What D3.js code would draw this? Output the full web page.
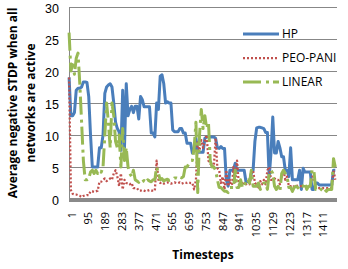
<!DOCTYPE html>
<html><head><meta charset="utf-8">
<script src="https://cdn.jsdelivr.net/npm/d3@7"></script>
<style>
body{margin:0;background:#fff;}
text{font-family:"Open Sans",Calibri,sans-serif;fill:#000;}
</style></head>
<body><svg id="c" width="348" height="269"></svg>
<script>
// timesteps sampled every 10 steps (1, 11, 21, ... 1491)
const timesteps = d3.range(150).map(i => 1 + 10 * i);
const hp = [19,13,13,13.5,17,17.3,17.3,17.5,18.3,18.3,18.2,16,10,5,5,5,5,8,8,10,
  16.5,17.5,17.8,18,17.5,15,12,11,10.5,7.6,17,8,18,13,14,14.5,13.5,14.5,14.5,12.5,
  16,15.5,14.4,14.4,14.4,14.4,10.3,10.3,9.7,15,14,19.2,19.4,18,15,15.2,15,15,10.8,10.5,
  10.5,10.5,11,11,10.3,10.3,8.7,8.7,8.7,7.2,7.5,9.5,7.3,7.3,7.3,7.3,9.5,9.7,9.7,9.7,
  9.7,9.7,9.5,8,7.9,8.2,7.9,7.9,3,2,4.5,4.5,4.5,5.6,4.5,4.5,4.5,4.5,4.5,2.7,
  2.7,2.7,4,4.5,9,11.1,11.2,11.2,11.1,11,10.4,10.4,3.4,7.2,12.8,7.2,7.2,9,8,6.6,
  6.6,4.5,4.5,3.5,8,3,3,3,3,4.5,1.5,4.8,4.2,4.2,4.2,4.2,1.5,1.5,2.5,2.5,
  2.2,2.2,2.2,2.2,2.2,2.2,2.2,2.2,4.5,4.5];
const peoPani = [19,1.4,0.8,0.7,0.7,0.6,0.5,0.3,0.5,0.5,0.6,0.6,1.2,1.2,1.1,1.2,1.3,2.7,2.7,3,
  3.2,2.8,3,3.2,3,4,4.5,3.5,2,4,1.5,3,2.5,2.5,2.3,2.5,1.7,1.7,1.7,1.3,
  1.3,1.4,1.3,1.2,1.3,1.4,1.3,1.3,1.3,6,3,2.5,2.6,2.4,2.5,2.6,2.5,2.4,2.5,2.6,
  2.5,2.5,2.6,2.4,2.5,2.6,2.5,2.6,2.5,2.5,1.5,3,9,7.6,9.2,8,9,10,6,5.5,
  5.5,5,9.5,4.8,4.5,2.5,3.5,1.5,4.5,2,3,1.5,5,2.5,6,2.3,2.3,2.5,2.2,2.3,
  2.4,2.3,3.8,4.5,2.5,2.3,1.8,2.8,2.3,3,2.3,4.5,5,3,3,3.2,3,3,2.3,3.5,
  4.5,3,3.5,2,2,1.8,2,2.2,2,2,2,2,2,2,2,2,3.5,3.5,1.7,1.7,
  1.7,1.7,1.7,1.7,1.7,1.7,1.7,1.7,4.5,3];
const linear = [26,20,21,19.5,22,22.8,18,12,6,3,3,3.2,4.2,4.5,4,4.5,4,4.5,4.2,5,
  10,15,12,8,15,13,9,8,10,5,11,6,8,5,4,3.5,4.5,3,2.8,2.6,
  3,2.7,2.9,2.6,3,2.8,2.7,3,3,5,4,3,3.2,2.8,3,3.1,2.9,3,3,3.3,
  3.3,3.2,3.4,3.3,3.5,5,5,5.5,6,6,8,12,1,10,14,11,13,11,12,6,
  5,5,4.5,3,1.8,1.8,1.5,1.2,1.2,1,1.8,1.8,1.8,4.5,1.8,1.8,3,1.8,1.8,3,
  3,2.5,4.5,2,2,2,2.5,1.5,2,2.5,2.5,1.5,4,4.5,4,2,1.5,2,1.2,4,
  4.5,4,3.5,1.8,1.8,1.2,1.8,2,1.8,1.5,2,2,2.5,1.5,2,2,4.5,4.5,1.5,1.5,
  1.2,1.5,1.8,1.5,1.2,1.5,1.5,1.5,6.3,5];
const seriesNames = ["HP", "PEO-PANI", "LINEAR"];
const seriesColors = ["#4a7ebb", "#c0504d", "#98b954"];
const yTicks = [0, 5, 10, 15, 20, 25, 30];
const xTickLabels = [1,95,189,283,377,471,565,659,753,847,941,1035,1129,1223,1317,1411];

const svg = d3.select("#c");
const L = 69, R = 337, T = 7, B = 199;
const x = d3.scaleLinear().domain([0.5, 1500.5]).range([L, R]);
const y = d3.scaleLinear().domain([0, 30]).range([B, T]);

// gridlines
svg.append("g").selectAll("line").data(yTicks.filter(d => d > 0)).join("line")
  .attr("x1", L).attr("x2", R).attr("y1", d => y(d) + 0.5).attr("y2", d => y(d) + 0.5)
  .attr("stroke", "#878787").attr("stroke-width", 1);
// y axis line
svg.append("line").attr("x1", L + 0.5).attr("x2", L + 0.5).attr("y1", T).attr("y2", B + 2)
  .attr("stroke", "#878787");
// y tick labels
svg.append("g").selectAll("text").data(yTicks).join("text")
  .attr("x", 59).attr("y", d => y(d) + 1).attr("dy", "0.36em")
  .attr("text-anchor", "end")
  .style("font-family", "'Liberation Sans', Arial, sans-serif")
  .style("font-size", "12.5px").text(d => d);

// series
const line = d3.line().x((d, i) => x(timesteps[i])).y(d => y(d));
const data = [hp, peoPani, linear];
const dashes = [null, "2,2", "18,5,3,4"];
const widths = [3, 2.25, 3];
data.forEach((s, k) => {
  svg.append("path").datum(s).attr("d", line).attr("fill", "none")
    .attr("stroke", seriesColors[k]).attr("stroke-width", widths[k])
    .attr("stroke-dasharray", dashes[k]).attr("stroke-linejoin", "round");
});

// bottom axis band
svg.append("rect").attr("x", L).attr("y", B - 1).attr("width", R - L).attr("height", 4)
  .attr("fill", "#8a8a8a");

// x tick labels
svg.append("g").selectAll("text").data(xTickLabels).join("text")
  .attr("transform", d => `translate(${x(d) + 2.6},212) rotate(-90)`)
  .attr("dy", "0.35em").attr("text-anchor", "end").style("font-size", "11px").text(d => d);

// axis titles
svg.append("text").attr("x", 203).attr("y", 259).attr("text-anchor", "middle")
  .style("font-size", "12px").style("font-weight", "bold").text("Timesteps");
const yt = svg.append("text").attr("transform", "translate(0,103) rotate(-90)")
  .attr("text-anchor", "middle").style("font-size", "12px").style("font-weight", "bold");
yt.append("tspan").attr("x", 0).attr("y", 16.5).text("Average negative STDP when all");
yt.append("tspan").attr("x", 0).attr("y", 34.5).text("networks are active");

// legend
const ly = [34, 58, 82];
seriesNames.forEach((n, k) => {
  svg.append("line").attr("x1", 243).attr("x2", 279).attr("y1", ly[k]).attr("y2", ly[k])
    .attr("stroke", seriesColors[k]).attr("stroke-width", widths[k])
    .attr("stroke-dasharray", dashes[k]);
  svg.append("text").attr("x", 282).attr("y", ly[k]).attr("dy", "0.36em")
    .style("font-size", "12px").text(n);
});
</script></body></html>
